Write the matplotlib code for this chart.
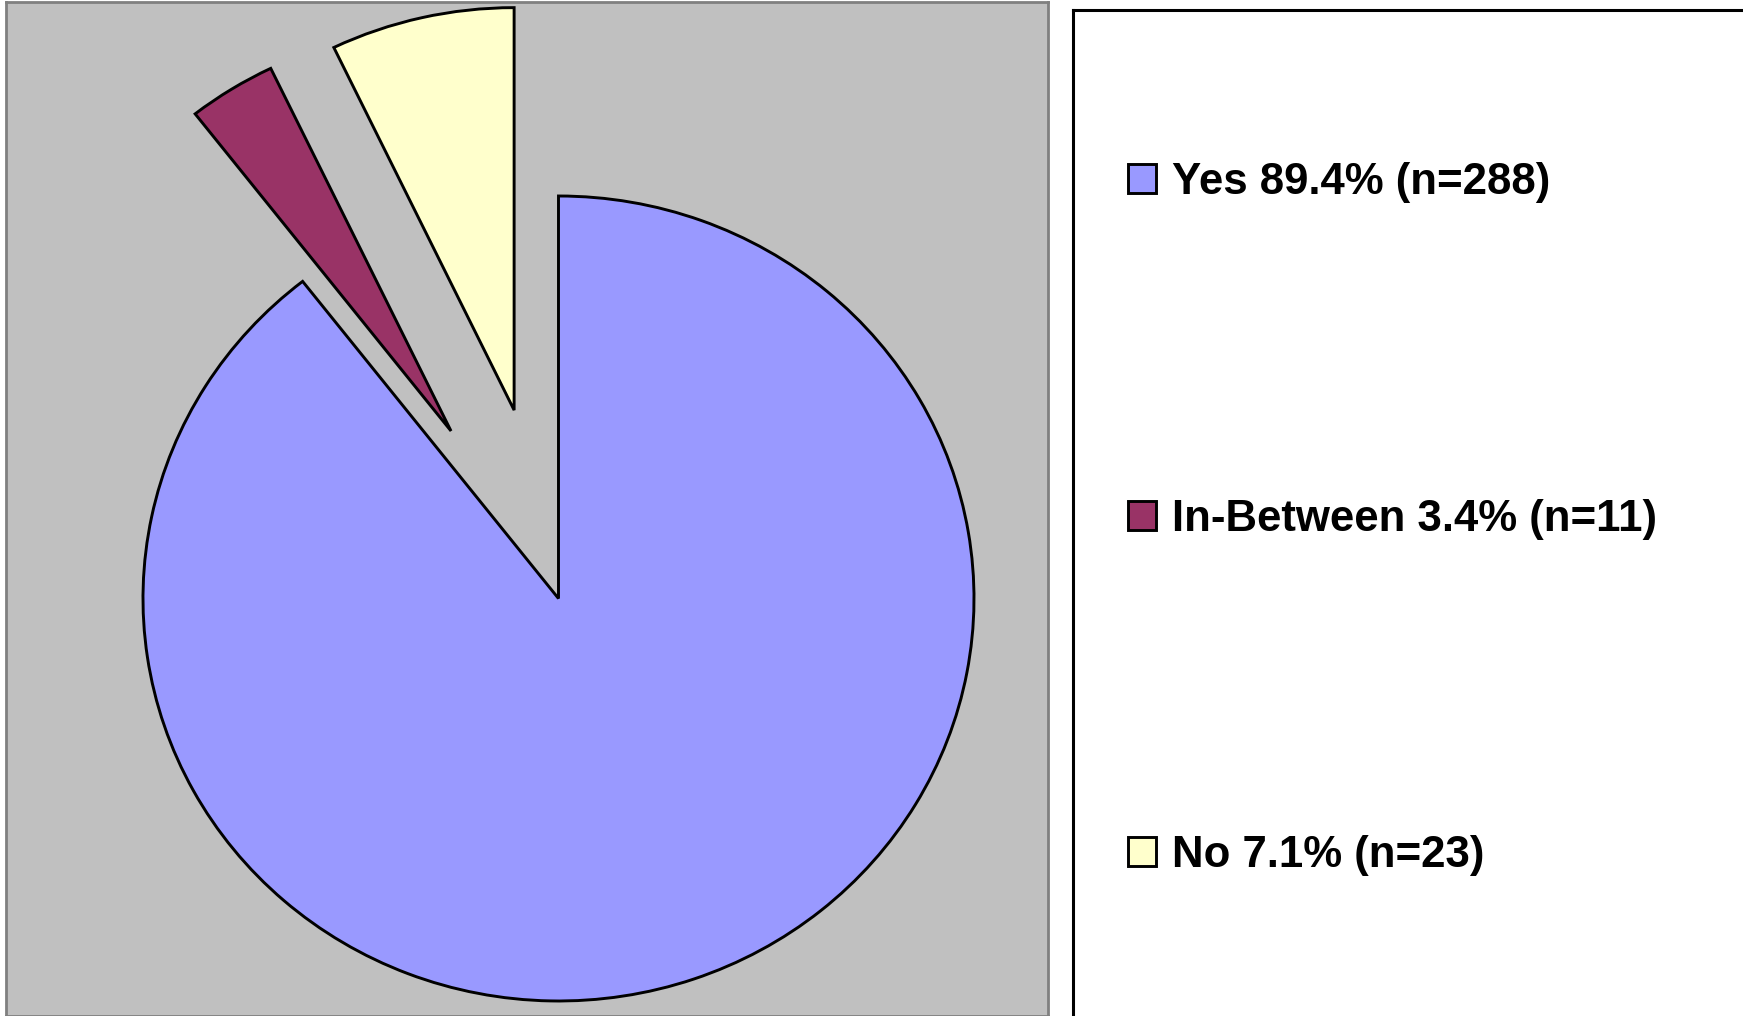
import matplotlib
matplotlib.use("Agg")
import matplotlib.pyplot as plt

# answer shares
labels = ["Yes 89.4% (n=288)", "In-Between 3.4% (n=11)", "No 7.1% (n=23)"]
counts = [288, 11, 23]
colors = ["#9999FF", "#993366", "#FFFFCC"]
explode = [0.0, 0.49, 0.48]

W, H = 1743, 1016
fig = plt.figure(figsize=(W / 100, H / 100), dpi=100)

# plot area (grey) on the left
ax = fig.add_axes([6 / W, 0, 1042 / W, 1014 / H])
wedges, _ = ax.pie(counts, colors=colors, explode=explode, startangle=90,
                   counterclock=False,
                   wedgeprops=dict(edgecolor="black", linewidth=2.1))
ax.set_frame_on(True)
ax.set_facecolor("#C0C0C0")
ax.set_aspect("auto")
ax.set_xlim(-1.3297, 1.1781)
ax.set_ylim(-1.0373, 1.482)
ax.set_xticks([])
ax.set_yticks([])
for s in ax.spines.values():
    s.set_color("#808080")
    s.set_linewidth(2)

# legend panel on the right
lax = fig.add_axes([1073 / W, -0.02, 0.5, 1 - 10 / H + 0.02])
lax.set_xticks([])
lax.set_yticks([])
for s in lax.spines.values():
    s.set_color("black")
    s.set_linewidth(2.2)

fig.legend(wedges, labels, loc="center left",
           bbox_to_anchor=(1128 / W, 1 - 519 / H),
           frameon=False, borderpad=0, borderaxespad=0,
           prop=dict(family="Liberation Sans", weight="bold", size=31.5),
           labelspacing=6.75, handlelength=0.65, handleheight=0.65,
           handletextpad=0.35)

fig.savefig("out.png", dpi=100)
